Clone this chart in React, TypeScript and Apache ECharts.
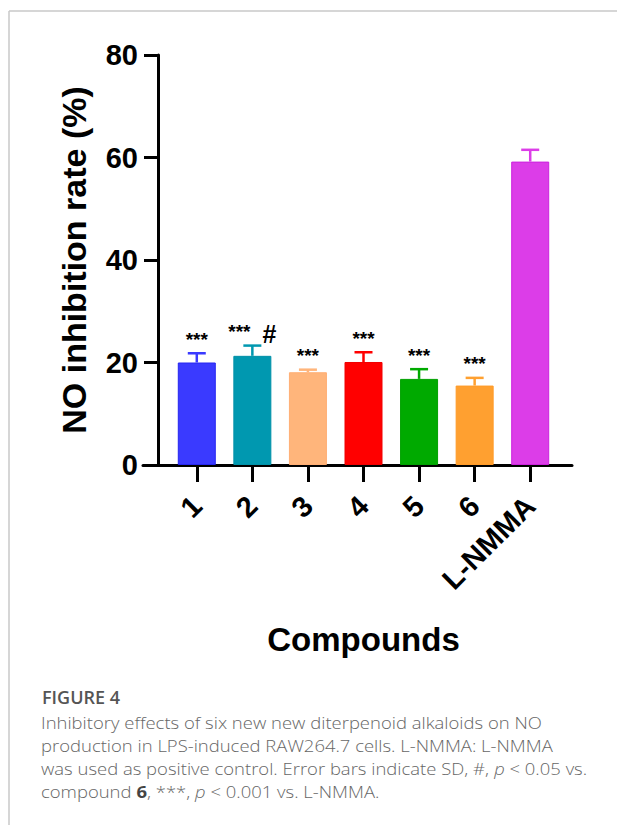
import React, { useEffect, useRef } from "react";
import * as echarts from "echarts";

const categories = ["1", "2", "3", "4", "5", "6", "L-NMMA"];
const means = [20.0, 21.3, 18.1, 20.1, 16.8, 15.5, 59.2];
const sds = [1.8, 2.0, 0.5, 1.9, 1.9, 1.5, 2.3];
const sigStars = ["***", "***", "***", "***", "***", "***", ""];
const sigHash = ["", "#", "", "", "", "", ""];
const barColors = ["#3a3aff", "#0098b0", "#ffb57b", "#ff0000", "#00aa00", "#ffa030", "#dc3de8"];
const borderColors = ["#2626f0", "#0090a8", "#ffae74", "#f00000", "#00a000", "#ff9a28", "#cc22dd"];
const yMin = 0;
const yMax = 80;
const yInterval = 20;

const yAxisTitle = "NO inhibition rate (%)";
const xAxisTitle = "Compounds";
const captionTitle = "FIGURE 4";
const captionLines = [
  "Inhibitory effects of six new new diterpenoid alkaloids on NO",
  "production in LPS-induced RAW264.7 cells. L-NMMA: L-NMMA",
  "was used as positive control. Error bars indicate SD, #, {i|p} < 0.05 vs.",
  "compound {b|6}, ***, {i|p} < 0.001 vs. L-NMMA.",
];

const FONT = "'Liberation Sans', Arial, Helvetica, sans-serif";
const CAP_FONT = "'Open Sans', Lato, sans-serif";

export default function App() {
  const ref = useRef<HTMLDivElement>(null);

  useEffect(() => {
    if (!ref.current) return;
    const chart = echarts.init(ref.current, undefined, { renderer: "svg" });

    const option: any = {
      animation: false,
      backgroundColor: "#ffffff",
      grid: [
        { left: 169, right: 59, top: 55, bottom: 360 },
        { left: 143, right: 45, top: 55, bottom: 360 },
      ],
      xAxis: [
        {
          type: "category",
          gridIndex: 0,
          data: categories,
          axisLine: { show: false },
          axisTick: {
            show: true,
            alignWithLabel: true,
            length: 17,
            lineStyle: { color: "#000", width: 3 },
          },
          axisLabel: {
            rotate: 45,
            margin: 36,
            color: "#000",
            fontSize: 29,
            fontWeight: "bold",
            fontFamily: FONT,
          },
          name: xAxisTitle,
          nameLocation: "middle",
          nameGap: 158,
          nameTextStyle: { color: "#000", fontSize: 33, fontWeight: "bold", fontFamily: FONT },
        },
        {
          type: "value",
          gridIndex: 1,
          min: 0,
          max: 1,
          axisLine: { show: true, onZero: false, lineStyle: { color: "#000", width: 3 } },
          axisTick: { show: false },
          axisLabel: { show: false },
          splitLine: { show: false },
        },
      ],
      yAxis: [
        {
          type: "value",
          gridIndex: 0,
          min: yMin,
          max: yMax,
          interval: yInterval,
          offset: 11,
          axisLine: { show: true, lineStyle: { color: "#000", width: 3 } },
          axisTick: { show: true, length: 14, lineStyle: { color: "#000", width: 3 } },
          axisLabel: {
            margin: 20,
            color: "#000",
            fontSize: 29,
            fontWeight: "bold",
            fontFamily: FONT,
          },
          splitLine: { show: false },
          name: yAxisTitle,
          nameLocation: "middle",
          nameGap: 67,
          nameTextStyle: { color: "#000", fontSize: 34, fontWeight: "bold", fontFamily: FONT },
        },
        {
          type: "value",
          gridIndex: 1,
          show: false,
          min: 0,
          max: 1,
        },
      ],
      series: [
        {
          type: "bar",
          xAxisIndex: 0,
          yAxisIndex: 0,
          barWidth: 38,
          data: means.map((m, i) => ({
            value: m,
            itemStyle: { color: barColors[i], borderColor: borderColors[i], borderWidth: 1 },
          })),
          z: 2,
        },
        {
          type: "custom",
          xAxisIndex: 0,
          yAxisIndex: 0,
          z: 5,
          data: means.map((m, i) => [i, m, sds[i]]),
          encode: { x: 0, y: 1 },
          renderItem: (params: any, api: any) => {
            const i = params.dataIndex;
            const xi = api.value(0);
            const m = api.value(1);
            const sd = api.value(2);
            const base = api.coord([xi, m]);
            const top = api.coord([xi, m + sd]);
            const half = 9;
            const color = barColors[i];
            const children: any[] = [
              {
                type: "line",
                shape: { x1: base[0], y1: base[1], x2: top[0], y2: top[1] },
                style: { stroke: color, lineWidth: 2.5 },
              },
              {
                type: "line",
                shape: { x1: top[0] - half, y1: top[1], x2: top[0] + half, y2: top[1] },
                style: { stroke: color, lineWidth: 2.5 },
              },
            ];
            if (sigStars[i]) {
              children.push({
                type: "text",
                x: top[0] + (sigHash[i] ? -13 : 0),
                y: top[1] - 14,
                style: {
                  text: sigStars[i],
                  fill: "#000",
                  font: `bold 19px ${FONT}`,
                  align: "center",
                  verticalAlign: "middle",
                },
              });
            }
            if (sigHash[i]) {
              children.push({
                type: "text",
                x: top[0] + 17,
                y: top[1] - 12,
                style: {
                  text: sigHash[i],
                  fill: "#000",
                  font: `bold 25px ${FONT}`,
                  align: "center",
                  verticalAlign: "middle",
                },
              });
            }
            return { type: "group", children };
          },
        },
      ],
      graphic: [
        {
          type: "line",
          shape: { x1: 9, y1: 11, x2: 617, y2: 11 },
          style: { stroke: "#c8c8c8", lineWidth: 1.5 },
        },
        {
          type: "line",
          shape: { x1: 9, y1: 11, x2: 9, y2: 825 },
          style: { stroke: "#c8c8c8", lineWidth: 1.5 },
        },
        {
          type: "text",
          x: 42,
          y: 697,
          style: {
            text: captionTitle,
            fill: "#555555",
            font: `600 18px ${CAP_FONT}`,
            verticalAlign: "middle",
          },
        },
        ...captionLines.map((t, k) => ({
          type: "text",
          x: 41,
          y: 722 + k * 23.3,
          scaleX: 1.12,
          style: {
            text: t,
            fill: "#666666",
            font: `300 16.5px ${CAP_FONT}`,
            verticalAlign: "middle",
            rich: {
              i: { fontStyle: "italic", fontWeight: 300, fontSize: 16.5, fontFamily: CAP_FONT, fill: "#666666" },
              b: { fontWeight: "bold", fontSize: 16.5, fontFamily: CAP_FONT, fill: "#444444" },
            },
          },
        })),
      ],
    };

    chart.setOption(option);
    return () => chart.dispose();
  }, []);

  return (
    <div
      ref={ref}
      style={{ position: "fixed", left: 0, top: 0, width: 617, height: 825, background: "#fff" }}
    />
  );
}
